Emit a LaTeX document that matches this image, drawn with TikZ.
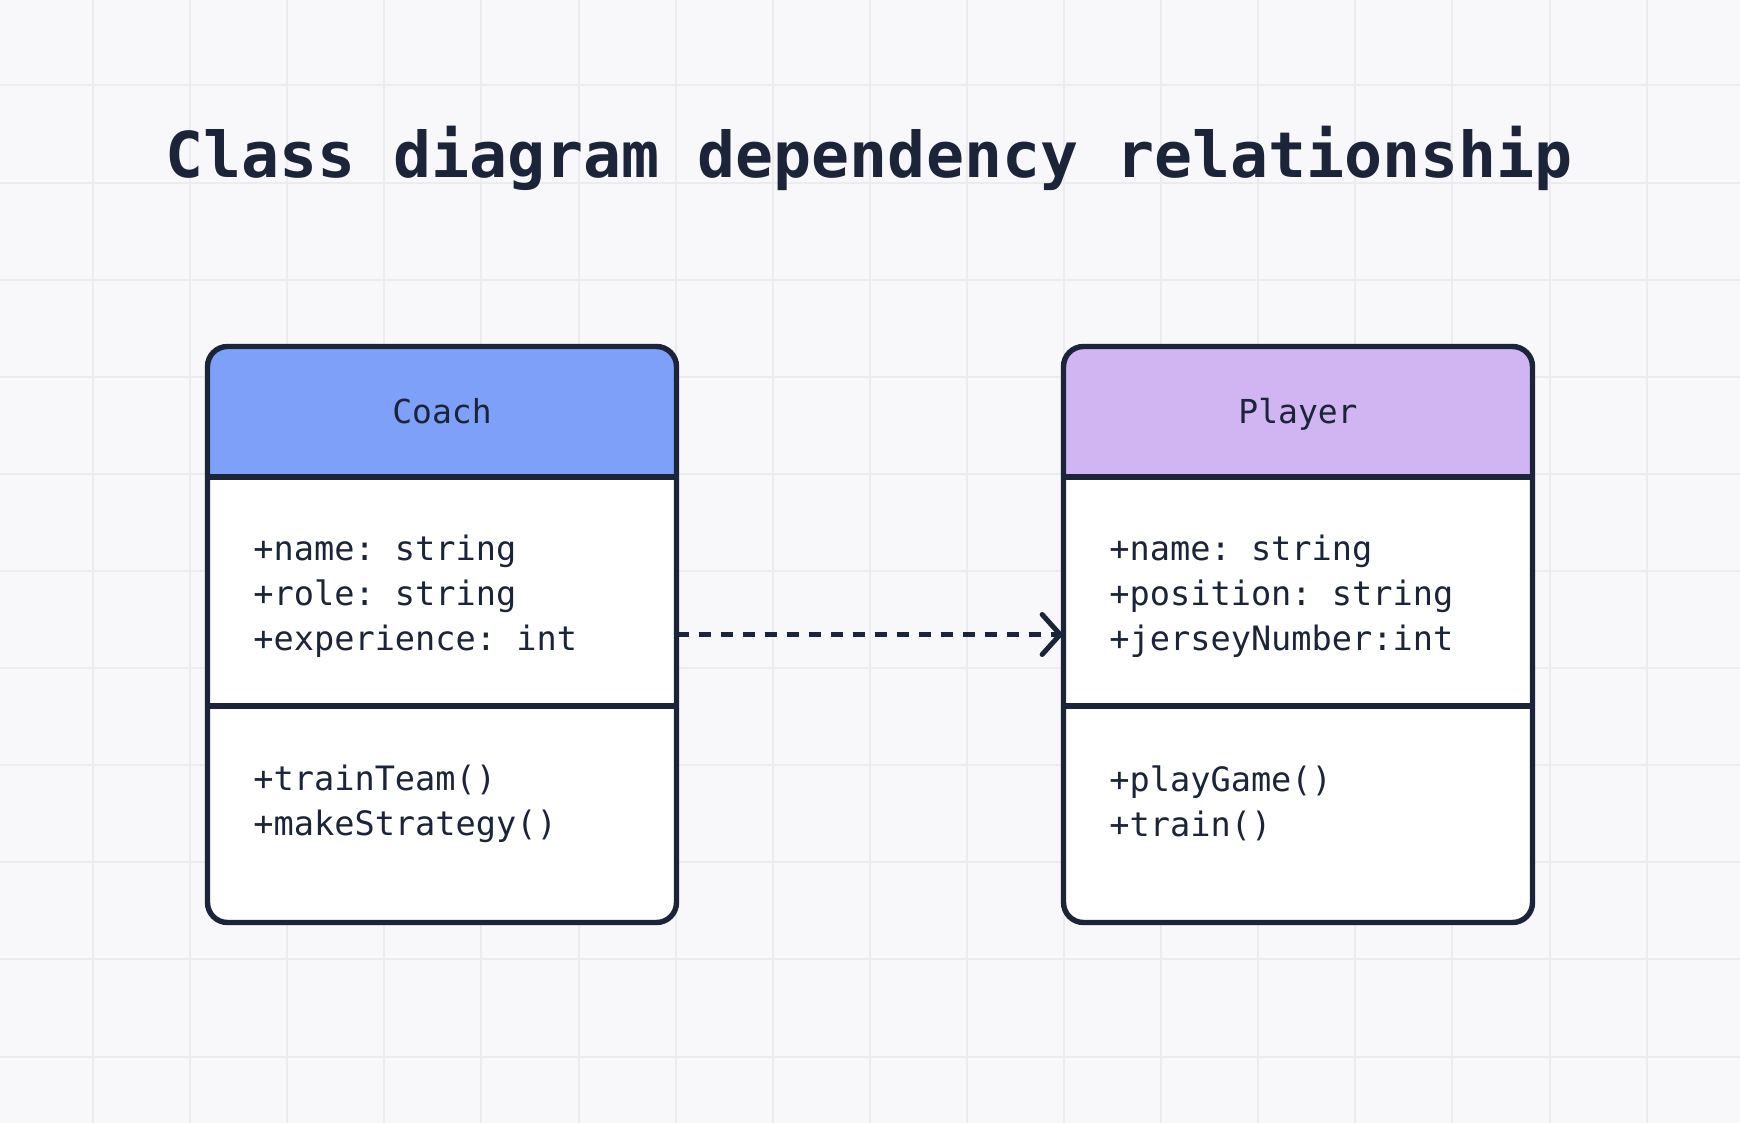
\documentclass[tikz,border=0pt]{standalone}
\usepackage{fontspec}
\setmonofont{DejaVu Sans Mono}
\usetikzlibrary{positioning,arrows.meta}

\definecolor{bgpaper}{HTML}{F8F8FA}
\definecolor{gridline}{HTML}{ECECEF}
\definecolor{ink}{HTML}{1B2438}
\definecolor{coachblue}{HTML}{7FA0F8}
\definecolor{playerpurple}{HTML}{D1B5F3}

\begin{document}
\begin{tikzpicture}[x=0.5pt,y=-0.5pt,
  classbox/.style={fill=white,minimum width=234.5pt,minimum height=288pt,inner sep=0pt,outer sep=0pt,rounded corners=10pt},
  outline/.style={draw=ink,line width=2.7pt,rounded corners=10pt},
  divider/.style={draw=ink,line width=2.7pt},
  classname/.style={font=\ttfamily\fontsize{16.5}{20}\selectfont,text=ink,anchor=base},
  members/.style={font=\ttfamily\fontsize{16.8}{22.5}\selectfont,text=ink,align=left,anchor=north west,inner sep=0pt},
  depends/.style={draw=ink,line width=2.5pt,dash pattern=on 6pt off 5pt,-{Straight Barb[length=9pt,width=20pt,line cap=round]}}]
\fill[bgpaper] (0,0) rectangle (1740,1123);
\useasboundingbox (0,0) rectangle (1740,1123);
% grid
\foreach \x in {0,...,16}
  \draw[gridline,line width=1pt] ({93+97.1*\x},0) -- ({93+97.1*\x},1123);
\foreach \y in {0,...,10}
  \draw[gridline,line width=1pt] (0,{85.5+97.1*\y}) -- (1740,{85.5+97.1*\y});

\node[font=\ttfamily\bfseries\fontsize{31.6}{36}\selectfont,text=ink,anchor=base] (title) at (869,178) {Class diagram dependency relationship};

% Coach
\node[classbox] (coach) at (442,634.5) {};
\fill[coachblue,rounded corners=10pt] (coach.north west) rectangle ([yshift=-65.25pt]coach.north east);
\fill[coachblue] ([yshift=-40pt]coach.north west) rectangle ([yshift=-65.25pt]coach.north east);
\draw[divider] ([yshift=-65.25pt]coach.north west) -- ([yshift=-65.25pt]coach.north east);
\draw[divider] ([yshift=-179.75pt]coach.north west) -- ([yshift=-179.75pt]coach.north east);
\draw[outline] (coach.north west) rectangle (coach.south east);
\node[classname] (coachname) at (442,423) {Coach};
\node[members] (coachattr) at (253,535) {+name: string\\+role: string\\+experience: int};
\node[members] (coachops) at (253,765) {+trainTeam()\\+makeStrategy()};

% Player
\node[classbox] (player) at (1298,634.5) {};
\fill[playerpurple,rounded corners=10pt] (player.north west) rectangle ([yshift=-65.25pt]player.north east);
\fill[playerpurple] ([yshift=-40pt]player.north west) rectangle ([yshift=-65.25pt]player.north east);
\draw[divider] ([yshift=-65.25pt]player.north west) -- ([yshift=-65.25pt]player.north east);
\draw[divider] ([yshift=-179.75pt]player.north west) -- ([yshift=-179.75pt]player.north east);
\draw[outline] (player.north west) rectangle (player.south east);
\node[classname] (playername) at (1298,423) {Player};
\node[members] (playerattr) at (1109,535) {+name: string\\+position: string\\+jerseyNumber:int};
\node[members] (playerops) at (1109,765) {+playGame()\\+train()};

% dependency
\draw[depends] (coach.east) -- (player.west);
\end{tikzpicture}
\end{document}
